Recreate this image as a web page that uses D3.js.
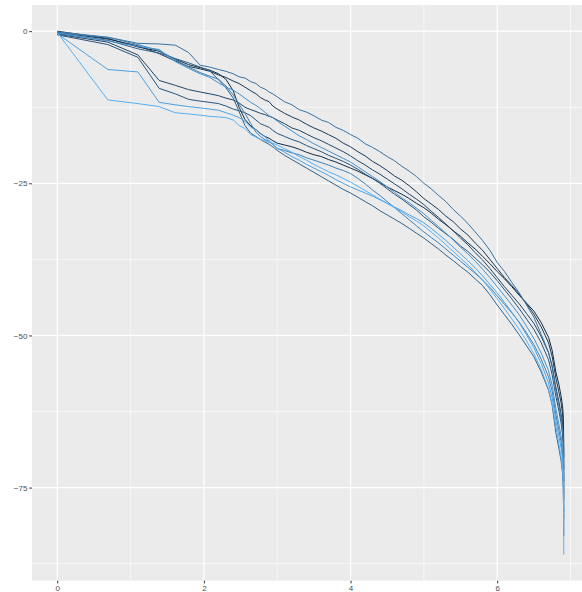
<!DOCTYPE html>
<html>
<head>
<meta charset="utf-8">
<script src="https://cdn.jsdelivr.net/npm/d3@7"></script>
<style>
  body { margin: 0; background: #fff; }
  svg { display: block; font-family: "Liberation Sans", Arial, sans-serif; }
</style>
</head>
<body>
<svg id="chart"></svg>
<script>
// data
const xs = [0, 0.69, 1.1, 1.39, 1.61, 1.79, 1.95, 2.08, 2.2, 2.3, 2.4, 2.48, 2.56, 2.64, 2.71, 2.77, 2.83, 2.89, 2.94, 3.0,
  3.1, 3.2, 3.3, 3.4, 3.5, 3.6, 3.7, 3.8, 3.9, 4.0, 4.1, 4.2, 4.3, 4.4, 4.5, 4.6, 4.7, 4.8, 4.9, 5.0,
  5.1, 5.2, 5.3, 5.4, 5.5, 5.6, 5.7, 5.8, 5.9, 6.0,
  6.1, 6.2, 6.3, 6.4, 6.5, 6.6, 6.7, 6.75, 6.8, 6.84, 6.87, 6.89, 6.9, 6.905, 6.908];

const s0 = [0, -1.2, -2.6, -3.3, -4.6, -5.5, -6.0, -6.4, -7.0, -7.9, -9.8, -12.5, -14.5, -15.6, -16.2, -16.8, -17.3, -17.6, -18.0, -18.4,
  -18.7, -19.0, -19.4, -19.9, -20.3, -20.6, -21.1, -21.5, -22.0, -22.5,
  -23.0, -23.6, -24.2, -24.9, -25.6, -26.2, -26.8, -27.5, -28.3, -29.0,
  -29.9, -30.9, -31.8, -32.8, -33.7, -34.8, -35.8, -37.0, -38.2, -39.5,
  -40.7, -42.0, -43.4, -44.7, -46.0, -47.9, -50.3, -52.5, -56.0, -58.0, -59.9, -61.5, -63.0, -65.5, -70.0];
const s1 = [-0.2, -1.3, -2.4, -3.7, -4.9, -5.8, -6.2, -6.6, -7.2, -7.6, -8.2, -8.6, -9.2, -9.8, -10.3, -10.9, -11.3, -11.6, -12.3, -12.8,
  -13.5, -14.1, -14.6, -15.3, -15.9, -16.4, -17.0, -17.6, -18.4, -19.0,
  -19.8, -20.5, -21.4, -22.1, -22.9, -23.8, -24.5, -25.4, -26.4, -27.5,
  -28.4, -29.3, -30.4, -31.3, -32.5, -33.5, -34.8, -36.0, -37.5, -39.0,
  -40.5, -41.8, -43.2, -44.8, -46.5, -48.6, -51.2, -53.5, -57.0, -59.2, -61.0, -62.8, -64.5, -67.0, -72.0];
const s2 = [-0.5, -1.8, -3.9, -8.1, -8.9, -9.6, -10.0, -10.3, -10.6, -11.0, -11.3, -11.8, -12.5, -12.9, -13.2, -13.5, -13.7, -14.0, -14.2, -14.6,
  -15.2, -15.9, -16.3, -16.9, -17.5, -18.0, -18.6, -19.2, -19.8, -20.5,
  -21.3, -22.0, -22.8, -23.5, -24.3, -25.1, -25.9, -26.8, -27.6, -28.5,
  -29.6, -30.6, -31.7, -32.8, -34.0, -35.1, -36.4, -37.6, -39.0, -40.5,
  -42.0, -43.4, -44.8, -46.4, -48.0, -50.2, -52.8, -55.2, -58.5, -60.8, -62.8, -64.4, -66.0, -69.0, -74.0];
const s3 = [-0.6, -2.2, -4.3, -9.4, -10.3, -11.2, -11.5, -11.7, -11.9, -12.3, -12.8, -13.1, -13.4, -13.9, -14.6, -15.2, -15.5, -15.8, -16.3, -16.8,
  -17.3, -17.8, -18.2, -18.8, -19.3, -19.8, -20.4, -20.9, -21.4, -22.0,
  -22.7, -23.5, -24.2, -25.0, -25.9, -26.8, -27.6, -28.5, -29.4, -30.5,
  -31.4, -32.4, -33.3, -34.2, -35.3, -36.2, -37.3, -38.4, -39.6, -41.0,
  -42.5, -44.0, -45.6, -47.3, -49.0, -51.2, -54.0, -56.5, -60.0, -62.3, -64.3, -66.2, -68.0, -71.0, -77.0];
const s4 = [-0.4, -1.5, -2.9, -3.6, -4.5, -5.2, -5.9, -6.5, -8.0, -9.3, -11.0, -13.2, -15.5, -16.8, -17.3, -17.8, -18.2, -18.6, -19.0, -19.6,
  -20.4, -21.1, -21.8, -22.5, -23.2, -23.9, -24.6, -25.3, -26.0, -26.6,
  -27.3, -28.0, -28.7, -29.5, -30.2, -30.9, -31.6, -32.4, -33.2, -34.0,
  -34.9, -35.8, -36.8, -37.7, -38.7, -39.6, -40.7, -41.8, -43.3, -45.0,
  -46.6, -48.2, -49.9, -51.7, -53.5, -56.0, -59.0, -61.5, -66.0, -68.5, -70.5, -72.5, -75.0, -78.5, -83.0];
const s5 = [-0.3, -1.0, -2.0, -2.1, -2.3, -3.5, -5.6, -5.9, -6.3, -6.6, -7.0, -7.5, -7.7, -8.3, -8.6, -9.2, -9.5, -10.0, -10.3, -10.8,
  -11.6, -12.1, -12.9, -13.3, -13.9, -14.6, -15.0, -15.8, -16.3, -17.0,
  -17.6, -18.5, -19.1, -19.8, -20.6, -21.3, -22.2, -23.0, -23.9, -25.0,
  -25.9, -27.0, -28.0, -29.3, -30.4, -31.6, -33.0, -34.4, -36.0, -38.0,
  -39.5, -41.3, -43.0, -45.0, -47.0, -49.8, -52.8, -55.0, -59.0, -61.5, -63.5, -65.2, -67.0, -70.0, -76.0];
const s6 = [-0.1, -1.0, -2.2, -3.2, -4.7, -5.9, -6.8, -7.4, -7.9, -9.0, -10.5, -12.0, -13.5, -15.2, -16.6, -17.3, -17.8, -18.1, -18.6, -19.3,
  -19.6, -20.0, -20.3, -20.8, -21.2, -21.6, -22.0, -22.5, -22.9, -23.4,
  -24.2, -25.1, -26.1, -27.0, -28.0, -29.0, -30.0, -31.0, -32.0, -33.0,
  -33.9, -34.8, -35.8, -36.8, -37.8, -38.8, -39.8, -40.9, -42.1, -43.5,
  -44.9, -46.3, -47.8, -49.6, -51.5, -53.9, -56.8, -59.2, -63.0, -65.5, -67.4, -69.2, -71.0, -74.0, -80.0];
const s7 = [-0.3, -1.6, -2.5, -3.0, -5.0, -6.1, -7.0, -7.6, -8.5, -9.2, -9.7, -10.3, -11.0, -11.7, -12.2, -12.7, -13.3, -13.9, -14.2, -14.8,
  -15.6, -16.4, -17.2, -17.8, -18.5, -19.1, -19.7, -20.3, -20.9, -21.5,
  -22.3, -23.1, -23.9, -24.7, -25.6, -26.5, -27.4, -28.2, -29.1, -30.0,
  -31.1, -32.1, -33.2, -34.3, -35.5, -36.6, -37.8, -39.1, -40.5, -42.0,
  -43.5, -45.0, -46.6, -48.5, -50.5, -52.9, -55.8, -58.2, -62.0, -64.5, -66.4, -68.2, -70.0, -73.0, -79.0];
const s8 = [-0.4, -6.3, -6.7, -11.7, -12.1, -12.4, -12.6, -12.8, -13.0, -13.4, -13.8, -14.2, -14.8, -15.8, -16.2, -16.9, -17.3, -18.0, -18.6, -19.2,
  -19.9, -20.6, -21.2, -21.9, -22.5, -23.1, -23.7, -24.4, -25.0, -25.6,
  -26.1, -26.6, -27.1, -27.7, -28.3, -28.9, -29.5, -30.2, -30.8, -31.5,
  -32.4, -33.4, -34.4, -35.5, -36.6, -37.7, -38.9, -40.2, -41.6, -43.0,
  -44.6, -46.2, -47.9, -49.9, -52.0, -54.6, -57.8, -60.3, -64.0, -66.5, -68.4, -70.2, -72.0, -75.0, -81.0];
const s9 = [-0.2, -11.3, -11.9, -12.4, -13.4, -13.6, -13.8, -14.0, -14.1, -14.2, -14.6, -15.5, -16.0, -17.0, -17.4, -17.8, -18.0, -18.3, -18.4, -18.7,
  -19.3, -19.9, -20.6, -21.2, -21.9, -22.5, -23.1, -23.6, -24.2, -24.8,
  -25.5, -26.2, -26.9, -27.6, -28.3, -29.0, -29.7, -30.5, -31.2, -32.0,
  -33.0, -34.0, -35.1, -36.2, -37.3, -38.4, -39.6, -40.9, -42.4, -44.0,
  -45.6, -47.3, -49.0, -50.9, -53.0, -55.6, -58.8, -61.3, -65.0, -67.8, -70.0, -72.0, -74.0, -78.0, -86.0];

const seriesValues = [s0, s1, s2, s3, s4, s5, s6, s7, s8, s9];
const colourValues = [0, 0.11, 0.22, 0.33, 0.44, 0.56, 0.67, 0.78, 0.89, 1];

const xTicks = [0, 2, 4, 6];
const xMinor = [1, 3, 5, 7];
const yTicks = [0, -25, -50, -75];
const yTickLabels = ["0", "\u221225", "\u221250", "\u221275"];
const yMinor = [-12.5, -37.5, -62.5, -87.5];

// chart
const width = 582;
const height = 592;
const panel = { left: 31.9, top: 5, bottom: 580.7 };

const xExt = d3.extent(xs);
const yExt = d3.extent(seriesValues.flat());
const xPad = (xExt[1] - xExt[0]) * 0.05;
const yPad = (yExt[1] - yExt[0]) * 0.05;
const xUnit = 73.33;

const x = d3.scaleLinear()
  .domain([xExt[0] - xPad, xExt[1] + xPad])
  .range([panel.left, panel.left + (xExt[1] - xExt[0] + 2 * xPad) * xUnit]);

const y = d3.scaleLinear()
  .domain([yExt[0] - yPad, yExt[1] + yPad])
  .range([panel.bottom, panel.top]);

const colour = d3.interpolateLab("#132B43", "#56B1F7");

const svg = d3.select("#chart")
  .attr("width", width)
  .attr("height", height);

svg.append("rect")
  .attr("width", width).attr("height", height).attr("fill", "#fff");

svg.append("rect")
  .attr("x", x.range()[0]).attr("y", panel.top)
  .attr("width", x.range()[1] - x.range()[0])
  .attr("height", panel.bottom - panel.top)
  .attr("fill", "#EBEBEB");

const grid = svg.append("g");
grid.selectAll(".ymin").data(yMinor.filter(d => y(d) > panel.top && y(d) < panel.bottom)).join("line")
  .attr("x1", x.range()[0]).attr("x2", x.range()[1])
  .attr("y1", d => y(d)).attr("y2", d => y(d))
  .attr("stroke", "#fff").attr("stroke-width", 0.6);
grid.selectAll(".xmin").data(xMinor).join("line")
  .attr("y1", panel.top).attr("y2", panel.bottom)
  .attr("x1", d => x(d)).attr("x2", d => x(d))
  .attr("stroke", "#fff").attr("stroke-width", 0.6);
grid.selectAll(".ymaj").data(yTicks).join("line")
  .attr("x1", x.range()[0]).attr("x2", x.range()[1])
  .attr("y1", d => y(d)).attr("y2", d => y(d))
  .attr("stroke", "#fff").attr("stroke-width", 1.2);
grid.selectAll(".xmaj").data(xTicks).join("line")
  .attr("y1", panel.top).attr("y2", panel.bottom)
  .attr("x1", d => x(d)).attr("x2", d => x(d))
  .attr("stroke", "#fff").attr("stroke-width", 1.2);

const line = d3.line()
  .x((d, i) => x(xs[i]))
  .y(d => y(d));

svg.append("g")
  .selectAll("path")
  .data(seriesValues)
  .join("path")
  .attr("fill", "none")
  .attr("stroke", (d, i) => colour(colourValues[i]))
  .attr("stroke-width", 1)
  .attr("stroke-linejoin", "round")
  .attr("d", line);

// axes
const xAxis = d3.axisBottom(x).tickValues(xTicks).tickSize(2.7).tickPadding(1.5).tickFormat(d3.format("d"));
const yAxis = d3.axisLeft(y).tickValues(yTicks).tickSize(2.7).tickPadding(1.8)
  .tickFormat((d, i) => yTickLabels[i]);

svg.append("g")
  .attr("transform", `translate(0,${panel.bottom})`)
  .call(xAxis)
  .call(g => g.select(".domain").remove())
  .call(g => g.selectAll(".tick line").attr("stroke", "#333"))
  .call(g => g.selectAll(".tick text").attr("fill", "#4D4D4D").attr("font-size", 8).attr("font-family", "Liberation Sans, Arial, sans-serif"));

svg.append("g")
  .attr("transform", `translate(${x.range()[0]},0)`)
  .call(yAxis)
  .call(g => g.select(".domain").remove())
  .call(g => g.selectAll(".tick line").attr("stroke", "#333"))
  .call(g => g.selectAll(".tick text").attr("fill", "#4D4D4D").attr("font-size", 8).attr("font-family", "Liberation Sans, Arial, sans-serif"));
</script>
</body>
</html>
